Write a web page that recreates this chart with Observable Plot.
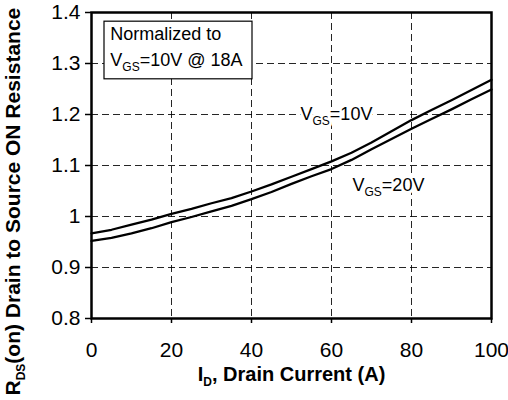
<!DOCTYPE html>
<html><head><meta charset="utf-8">
<script src="https://cdn.jsdelivr.net/npm/d3@7"></script>
<script src="https://cdn.jsdelivr.net/npm/@observablehq/plot@0.6"></script>
<style>body{margin:0;background:#fff;}</style>
</head><body><div id="chart"></div>
<script>
// ---- data ----
const current   = [0, 5, 10, 15, 20, 25, 30, 35, 40, 45, 50, 55, 60, 65, 70, 75, 80, 85, 90, 95, 100];
const rdsVgs10  = [0.967, 0.974, 0.984, 0.994, 1.005, 1.015, 1.026, 1.036, 1.049, 1.063, 1.078, 1.093, 1.108, 1.125, 1.145, 1.167, 1.189, 1.209, 1.228, 1.248, 1.268];
const rdsVgs20  = [0.952, 0.958, 0.967, 0.977, 0.989, 0.999, 1.010, 1.021, 1.034, 1.048, 1.064, 1.079, 1.093, 1.111, 1.132, 1.152, 1.172, 1.191, 1.210, 1.230, 1.249];
const seriesNames = ["V_{GS}=10V", "V_{GS}=20V"];
const xTicks = [0, 20, 40, 60, 80, 100];
const yTicks = [0.8, 0.9, 1.0, 1.1, 1.2, 1.3, 1.4];
const yTickLabels = ["0.8", "0.9", "1", "1.1", "1.2", "1.3", "1.4"];
const noteLines = ["Normalized to", "V_{GS}=10V @ 18A"];
const xLabel = "I_{D}, Drain Current (A)";
const yLabel = "R_{DS}(on) Drain to Source ON Resistance";

const rows = current.flatMap((c, i) => [
  {I: c, R: rdsVgs10[i], s: seriesNames[0]},
  {I: c, R: rdsVgs20[i], s: seriesNames[1]}
]);

const grid = {stroke: "#000", strokeOpacity: 0.85, strokeWidth: 1, strokeDasharray: "7,4"};

const chart = Plot.plot({
  width: 508, height: 400,
  marginLeft: 91, marginRight: 17, marginTop: 12, marginBottom: 82,
  style: {fontFamily: "'Liberation Sans', Arial, sans-serif", fontSize: "18px", color: "#000", background: "#fff", overflow: "visible"},
  x: {domain: [0, 100]},
  y: {domain: [0.8, 1.4]},
  marks: [
    Plot.gridX(xTicks.slice(1, -1), grid),
    Plot.gridY(yTicks.slice(1, -1), grid),
    Plot.rect([0], {x1: 3.25, x2: 40.25, y1: 1.269, y2: 1.382, fill: "white", stroke: "black", strokeWidth: 1.2}),
    Plot.text([noteLines[0]], {x: 4.7, y: 1.357, text: d => d, textAnchor: "start", fontSize: 18}),
    Plot.text([noteLines[1]], {x: 4.7, y: 1.307, text: d => d, textAnchor: "start", fontSize: 18}),
    Plot.line(rows, {x: "I", y: "R", z: "s", stroke: "black", strokeWidth: 2.3}),
    Plot.text([seriesNames[0]], {x: 52.25, y: 1.2, text: d => d, textAnchor: "start", fontSize: 18, fill: "black", stroke: "white", strokeWidth: 6}),
    Plot.text([seriesNames[1]], {x: 65.25, y: 1.061, text: d => d, textAnchor: "start", fontSize: 18, fill: "black", stroke: "white", strokeWidth: 6}),
    Plot.axisX(xTicks, {tickSize: 5, tickPadding: 19, fontSize: 21, label: null, strokeWidth: 1.5}),
    Plot.axisY(yTicks, {tickSize: 6, tickPadding: 5, fontSize: 21, label: null, strokeWidth: 1.5,
      tickFormat: d => yTickLabels[yTicks.indexOf(d)]}),
    Plot.frame({stroke: "black", strokeWidth: 2.5}),
    Plot.text([xLabel], {frameAnchor: "bottom", text: d => d, dy: 62, fontWeight: "bold", fontSize: 20}),
    Plot.text([yLabel], {frameAnchor: "bottom-left", text: d => d, rotate: -90, dx: -72, dy: 77, textAnchor: "start", fontWeight: "bold", fontSize: 21})
  ]
});

// subscripts: turn "_{..}" into lowered smaller tspans
chart.querySelectorAll("text").forEach(t => {
  const s = t.textContent;
  if (!s.includes("_{")) return;
  const fs = parseFloat(t.getAttribute("font-size") || getComputedStyle(t).fontSize) || 18;
  const sub = Math.round(fs * 0.68), shift = fs * 0.28;
  t.textContent = "";
  const parts = s.split(/(_\{[^}]*\})/);
  let lowered = false;
  parts.forEach(p => {
    if (!p) return;
    const ts = document.createElementNS("http://www.w3.org/2000/svg", "tspan");
    if (p.startsWith("_{")) {
      ts.textContent = p.slice(2, -1);
      ts.setAttribute("font-size", sub);
      ts.setAttribute("dy", shift);
      lowered = true;
    } else {
      ts.textContent = p;
      if (lowered) { ts.setAttribute("dy", -shift); lowered = false; }
    }
    t.appendChild(ts);
  });
});

document.getElementById("chart").appendChild(chart);
</script>
</body></html>
